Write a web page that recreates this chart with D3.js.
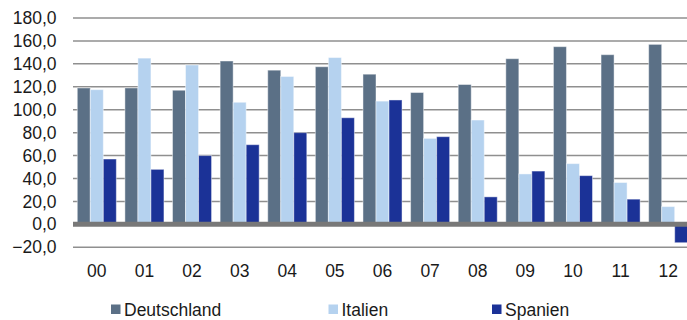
<!DOCTYPE html>
<html>
<head>
<meta charset="utf-8">
<script src="https://cdn.jsdelivr.net/npm/d3@7"></script>
<style>
  body { margin: 0; background: #fff; }
  svg { display: block; font-family: "Liberation Sans", Arial, sans-serif; }
</style>
</head>
<body>
<svg width="687" height="320"></svg>
<script>
// DATA
const years = ["00", "01", "02", "03", "04", "05", "06", "07", "08", "09", "10", "11", "12"];
const deutschland = [119, 119, 117, 142.5, 134.5, 137.5, 131, 115, 122, 144.5, 155, 148, 157];
const italien = [117.5, 145, 139, 106.5, 129, 145.5, 107.5, 75, 91, 44, 53, 36.5, 15.5];
const spanien = [57, 48, 60, 69.5, 80, 93, 108.5, 76.5, 24, 46.5, 42.5, 22, -16];
const yTicks = [-20, 0, 20, 40, 60, 80, 100, 120, 140, 160, 180];

const seriesNames = ["Deutschland", "Italien", "Spanien"];
const seriesValues = [deutschland, italien, spanien];
const colors = ["#5b7086", "#b5d2ef", "#1b3297"];

const svg = d3.select("svg");

// CONSTANTS
const margin = { top: 18, left: 73, bottom: 73 };
const plotRight = 692; // last group runs slightly past the window edge

// SCALES
const xScale = d3.scaleBand().domain(years).range([margin.left, plotRight]).paddingInner(0.18).paddingOuter(0.09);
const xInner = d3.scaleBand().domain(seriesNames).range([0, xScale.bandwidth()]);
const yScale = d3.scaleLinear().domain([-20, 180]).range([247.3, margin.top]);

// gridlines
svg.append("g")
  .selectAll("line")
  .data(yTicks.filter(d => d !== 0))
  .join("line")
  .attr("x1", margin.left)
  .attr("x2", 687)
  .attr("y1", d => yScale(d))
  .attr("y2", d => yScale(d))
  .attr("stroke", "#8f8f8f")
  .attr("stroke-width", 1.5);

// y labels
const fmt = d => d3.format(".1f")(d).replace(".", ",");
svg.append("g")
  .selectAll("text")
  .data(yTicks)
  .join("text")
  .attr("x", 56.5)
  .attr("y", d => yScale(d))
  .attr("dy", "0.35em")
  .attr("text-anchor", "end")
  .attr("font-size", 17.5)
  .attr("fill", "#1a1a1a")
  .text(fmt);

// bars, one g per year
const rows = years.map((y, i) => ({ year: y, values: seriesValues.map((s, k) => ({ name: seriesNames[k], value: s[i], k })) }));

const groups = svg.append("g")
  .selectAll("g")
  .data(rows)
  .join("g")
  .attr("transform", d => `translate(${xScale(d.year)}, 0)`);

groups.selectAll("rect")
  .data(d => d.values)
  .join("rect")
  .attr("x", d => xInner(d.name))
  .attr("width", xInner.bandwidth())
  .attr("y", d => yScale(Math.max(0, d.value)))
  .attr("height", d => Math.abs(yScale(d.value) - yScale(0)))
  .attr("fill", d => colors[d.k])
  .attr("stroke", "rgba(255,255,255,0.45)")
  .attr("stroke-width", 1);

// zero axis
svg.append("line")
  .attr("x1", margin.left)
  .attr("x2", 687)
  .attr("y1", yScale(0))
  .attr("y2", yScale(0))
  .attr("stroke", "#787878")
  .attr("stroke-width", 5);

// x labels
svg.append("g")
  .selectAll("text")
  .data(years)
  .join("text")
  .attr("x", d => xScale(d) + xScale.bandwidth() / 2)
  .attr("y", 271)
  .attr("dy", "0.35em")
  .attr("text-anchor", "middle")
  .attr("font-size", 17.5)
  .attr("fill", "#1a1a1a")
  .text(d => d);

// legend
const legendX = [111, 328.5, 492];
const legend = svg.append("g")
  .selectAll("g")
  .data(seriesNames)
  .join("g")
  .attr("transform", (d, i) => `translate(${legendX[i]}, 304.5)`);

legend.append("rect")
  .attr("width", 9.5)
  .attr("height", 9.5)
  .attr("fill", (d, i) => colors[i]);

legend.append("text")
  .attr("x", 13)
  .attr("y", 5.5)
  .attr("dy", "0.35em")
  .attr("font-size", 17.5)
  .attr("fill", "#1a1a1a")
  .text(d => d);
</script>
</body>
</html>
